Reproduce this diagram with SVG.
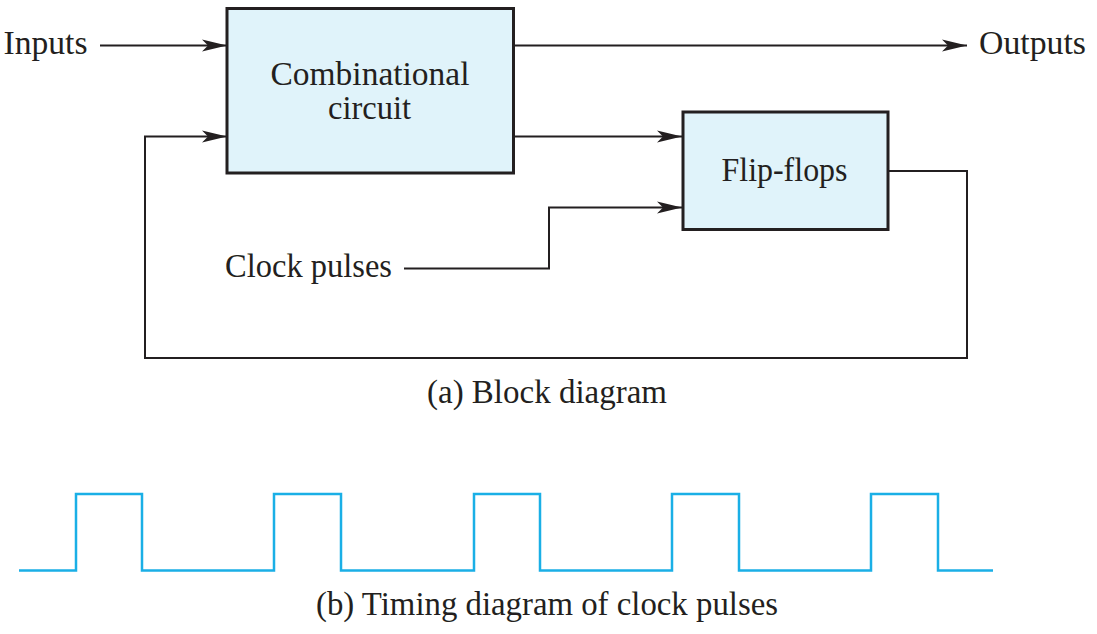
<svg xmlns="http://www.w3.org/2000/svg" width="1097" height="634" viewBox="0 0 1097 634">
<style>
.t{font-family:'Liberation Serif',Tinos,'Times New Roman',Times,'Nimbus Roman','DejaVu Serif',serif;font-size:33.5px;fill:#231f20}
.box{fill:#e0f3fa;stroke:#231f20;stroke-width:3}
.w{fill:none;stroke:#231f20;stroke-width:2}
.clk{fill:none;stroke:#1aafe6;stroke-width:2.5}
</style>
<defs>
<marker id="arr" markerUnits="userSpaceOnUse" markerWidth="26" markerHeight="14" refX="25" refY="6.5" orient="auto">
<path d="M0,0.5 L25,6.5 L0,12.5 L6,6.5 Z" fill="#231f20"/>
</marker>
</defs>
<rect width="1097" height="634" fill="#ffffff"/>
<g id="connectors">
<path class="w" d="M100,45.5 H227" marker-end="url(#arr)"/>
<path class="w" d="M514,45.5 H967" marker-end="url(#arr)"/>
<path class="w" d="M514,136.5 H682" marker-end="url(#arr)"/>
<path class="w" d="M404,268.5 H549 V207.5 H682" marker-end="url(#arr)"/>
<path class="w" d="M888,171 H967 V358 H145 V136.5 H227" marker-end="url(#arr)"/>
</g>
<g id="combinational">
<rect class="box" x="227" y="8.5" width="286.5" height="164.5"/>
<text class="t" x="270.5" y="85" textLength="199" lengthAdjust="spacingAndGlyphs">Combinational</text>
<text class="t" x="328" y="118.5" textLength="83" lengthAdjust="spacingAndGlyphs">circuit</text>
</g>
<g id="flipflops">
<rect class="box" x="683" y="112" width="205" height="117.5"/>
<text class="t" x="721.5" y="181" textLength="126" lengthAdjust="spacingAndGlyphs">Flip-flops</text>
</g>
<g id="labels">
<text class="t" x="3.5" y="53.5" textLength="84" lengthAdjust="spacingAndGlyphs">Inputs</text>
<text class="t" x="979" y="53.5" textLength="107" lengthAdjust="spacingAndGlyphs">Outputs</text>
<text class="t" x="225" y="277" textLength="167" lengthAdjust="spacingAndGlyphs">Clock pulses</text>
<text class="t" x="427" y="403" textLength="240" lengthAdjust="spacingAndGlyphs">(a) Block diagram</text>
<text class="t" x="316" y="615" textLength="462" lengthAdjust="spacingAndGlyphs">(b) Timing diagram of clock pulses</text>
</g>
<g id="timing">
<path class="clk" d="M19,570.5 H76 V494 H142 V570.5 H274 V494 H341 V570.5 H474 V494 H540 V570.5 H672 V494 H739 V570.5 H871 V494 H938 V570.5 H993"/>
</g>
</svg>
